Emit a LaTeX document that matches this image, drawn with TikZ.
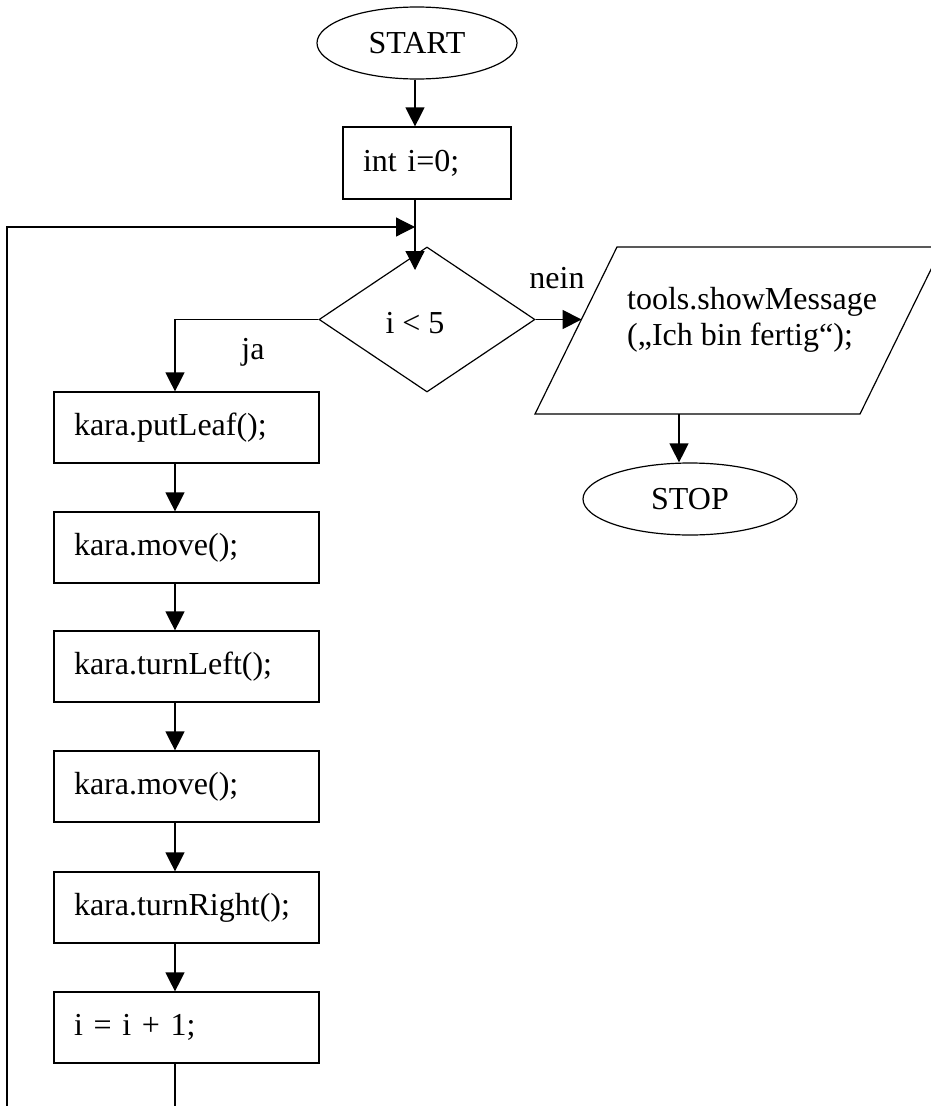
\documentclass[tikz,border=0pt]{standalone}
\usepackage{fontspec}
\setmainfont{Liberation Serif}
\usetikzlibrary{arrows.meta,shapes.geometric}
\tikzset{
  flow/.style={line width=1.2pt},
  arr/.style={flow,-{Triangle[length=19pt,width=19pt]}},
  stepbox/.style={draw,line width=1.2pt,rectangle,minimum width=265pt,minimum height=71pt,
    inner xsep=20pt,inner ysep=0pt,text width=225pt,align=left},
  term/.style={draw,line width=1.2pt,ellipse,inner sep=0pt},
  lbl/.style={inner sep=0pt}
}
\begin{document}
\begin{tikzpicture}[x=1pt,y=-1pt,font=\fontsize{32}{36}\selectfont]
\useasboundingbox (0,0) rectangle (930,1106);
% terminals and first steps
\node[term,minimum width=200pt,minimum height=72pt] (start) at (417,43) {START};
\node[draw,line width=1.2pt,rectangle,minimum width=168pt,minimum height=72pt,inner xsep=20pt,
  inner ysep=0pt,text width=128pt,align=left] (init) at (427,163) {int i=0;};
\coordinate (stem) at (415,163);
% decision
\node[draw,line width=1.2pt,diamond,minimum width=216pt,minimum height=145pt,inner sep=0pt] (cond) at (427,319.5) {};
\node[lbl] (condtext) at (415,323) {i < 5};
\coordinate (dtop) at (415,270);
\coordinate (looptip) at (415,227);
\coordinate (loopcorner) at (7,227);
\coordinate (loopbottom) at (7,1106);
% output parallelogram
\coordinate (pA) at (535,414);
\coordinate (pB) at (617,247);
\coordinate (pC) at (942,247);
\coordinate (pD) at (860,414);
\draw[flow] (pA) -- (pB) -- (pC) -- (pD) -- cycle;
\node[lbl,anchor=west,align=left] (msg) at (627,320) {tools.showMessage\\(„Ich bin fertig“);};
\coordinate (pin) at (581.6,319.5);
\coordinate (pout) at (679,414);
\node[term,minimum width=214pt,minimum height=72pt] (stop) at (690,499) {STOP};
\node[lbl] (nein) at (557,278) {nein};
\node[lbl] (ja) at (253,352) {ja};
% left column
\node[stepbox] (b1) at (186.5,427.5) {kara.putLeaf();};
\node[stepbox] (b2) at (186.5,547.5) {kara.move();};
\node[stepbox] (b3) at (186.5,666.5) {kara.turnLeft();};
\node[stepbox] (b4) at (186.5,786.5) {kara.move();};
\node[stepbox] (b5) at (186.5,907.5) {kara.turnRight();};
\node[stepbox] (b6) at (186.5,1027.5) {i = i + 1;};
\coordinate (jcorner) at (175,319.5);
\coordinate (endb) at (175,1106);
% connectors
\draw[arr] (start.south -| stem) -- (init.north -| stem);
\draw[flow] (init.south -| stem) -- (looptip);
\draw[arr] (looptip) -- (dtop);
\draw[arr] (loopbottom) -- (loopcorner) -- (looptip);
\draw[arr] (cond.east) -- (pin);
\draw[arr] (pout) -- (pout |- stop.north);
\draw[arr] (cond.west) -- (jcorner) -- (jcorner |- b1.north);
\draw[arr] (b1.south -| jcorner) -- (b2.north -| jcorner);
\draw[arr] (b2.south -| jcorner) -- (b3.north -| jcorner);
\draw[arr] (b3.south -| jcorner) -- (b4.north -| jcorner);
\draw[arr] (b4.south -| jcorner) -- (b5.north -| jcorner);
\draw[arr] (b5.south -| jcorner) -- (b6.north -| jcorner);
\draw[flow] (b6.south -| jcorner) -- (endb);
\end{tikzpicture}
\end{document}
